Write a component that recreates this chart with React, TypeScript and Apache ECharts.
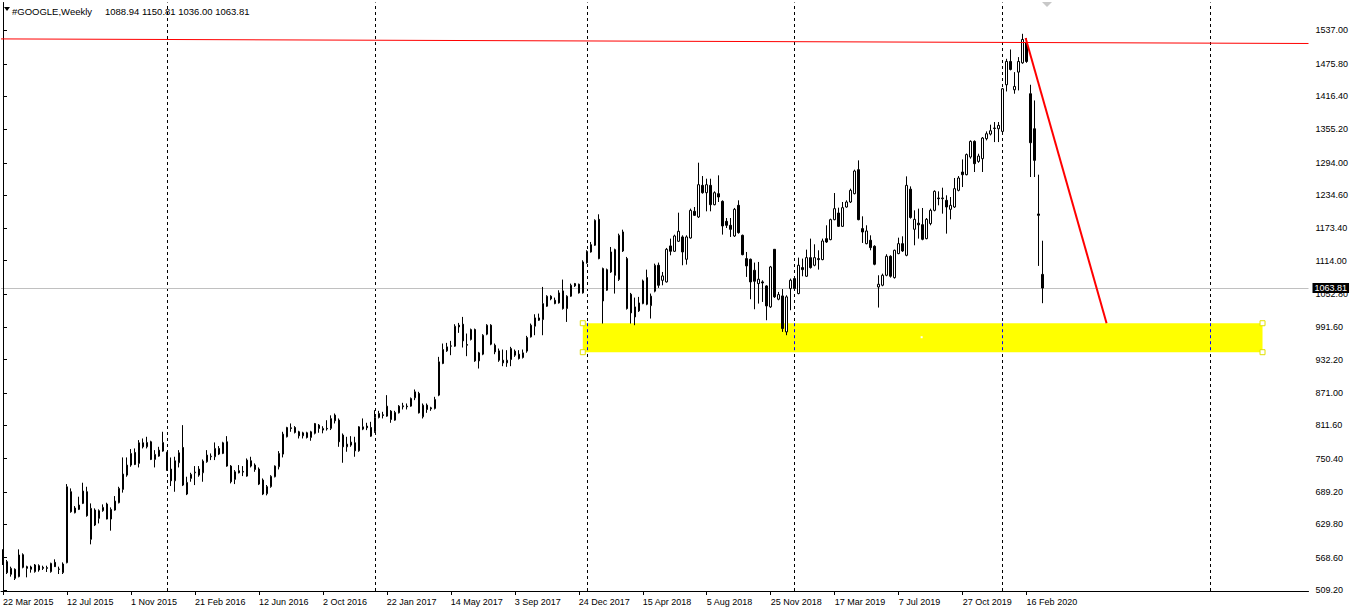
import React, { useEffect, useRef } from "react";
import * as echarts from "echarts";

// weekly candles: [open, close, low, high]
const weeks2015 = [
  [582.6, 556.9, 555.1, 583.8], [561.2, 541.0, 538.5, 564.2], [537.9, 548.9, 533.7, 552.0], [547.1, 530.6, 527.5, 548.9],
  [533.7, 573.4, 532.4, 583.8], [574.0, 550.8, 548.9, 576.5], [552.0, 548.9, 532.4, 553.8], [547.1, 551.4, 541.0, 553.8],
  [542.8, 555.1, 541.0, 556.9], [553.8, 545.9, 542.8, 556.3], [550.8, 548.9, 545.9, 553.8], [550.2, 548.9, 542.2, 553.8],
  [542.8, 558.1, 541.0, 559.3], [559.9, 552.0, 551.4, 565.5], [547.7, 547.1, 538.5, 552.0], [541.0, 556.9, 538.5, 559.9],
  [559.3, 698.8, 558.1, 703.7], [689.7, 652.9, 651.1, 695.8], [651.1, 659.7, 649.9, 663.3], [657.2, 665.2, 656.0, 680.5],
  [668.2, 690.9, 667.0, 706.2], [689.7, 645.6, 643.8, 698.8], [602.2, 659.1, 593.0, 668.2], [656.0, 628.5, 626.6, 659.1],
  [640.7, 654.8, 631.5, 657.2], [654.8, 660.9, 652.9, 666.4], [667.0, 639.5, 638.9, 669.5], [639.5, 657.2, 618.1, 660.9],
  [656.0, 672.5, 654.8, 681.7], [669.5, 695.8, 668.2, 698.8], [693.9, 722.1, 688.0, 752.7], [720.2, 738.6, 717.2, 752.7],
  [738.6, 760.0, 735.5, 768.0], [761.9, 739.8, 738.6, 769.2], [741.7, 779.6, 734.3, 784.5], [779.6, 772.2, 769.2, 787.5],
  [772.2, 780.2, 769.2, 790.6], [781.4, 749.0, 747.8, 783.3], [749.0, 758.2, 734.3, 766.1], [755.1, 766.1, 753.9, 772.2],
  [764.3, 780.2, 763.1, 799.8],
];
const weeks2016 = [
  [761.2, 729.4, 728.2, 763.1], [731.3, 709.8, 700.1, 752.6], [709.8, 746.5, 689.6, 753.9], [742.9, 761.2, 734.3, 766.1],
  [771.0, 701.9, 700.1, 812.0], [685.4, 706.8, 683.5, 717.2], [714.1, 721.5, 708.0, 724.5], [724.5, 725.7, 701.9, 736.8],
  [720.2, 731.3, 717.2, 736.8], [724.5, 745.9, 708.0, 749.0], [744.7, 757.0, 742.9, 766.1], [753.9, 755.0, 747.8, 760.0],
  [753.9, 769.2, 747.8, 780.2], [769.2, 758.8, 757.0, 773.5], [760.0, 779.6, 758.8, 781.4], [781.4, 736.8, 735.5, 791.8],
  [736.8, 708.0, 705.0, 738.6], [712.3, 726.3, 703.7, 729.4], [728.2, 724.5, 723.3, 738.6], [727.0, 725.7, 718.4, 736.8],
  [718.4, 747.8, 717.2, 750.8], [746.5, 736.8, 734.3, 753.9], [738.6, 730.6, 726.3, 741.7], [731.3, 703.7, 701.9, 734.3],
  [711.1, 685.4, 683.5, 714.1], [686.0, 699.0, 683.0, 702.0], [699.0, 718.0, 697.0, 720.0], [717.2, 736.8, 716.0, 738.0],
  [735.5, 760.0, 730.6, 764.3], [758.8, 795.5, 752.7, 799.8], [790.6, 807.7, 789.4, 808.9], [807.1, 805.9, 799.8, 815.1],
  [807.7, 798.6, 796.7, 810.2], [799.8, 792.4, 787.5, 801.6], [792.4, 797.9, 787.5, 799.8], [797.9, 789.4, 787.5, 799.8],
  [789.4, 799.8, 783.3, 801.6], [797.0, 815.0, 795.0, 816.0], [812.0, 806.0, 798.0, 814.0], [803.0, 806.0, 797.0, 810.0],
  [806.0, 805.0, 802.0, 821.0], [806.0, 824.0, 803.0, 830.0], [830.4, 820.0, 815.1, 833.4], [821.2, 781.4, 772.2, 824.3],
  [793.7, 772.2, 742.9, 796.7], [772.2, 777.1, 763.1, 790.6], [775.3, 780.8, 772.2, 791.8], [779.6, 764.9, 753.9, 790.6],
  [764.9, 808.9, 763.1, 810.2], [804.7, 808.9, 802.8, 824.3], [810.2, 807.1, 802.8, 816.3], [807.7, 791.8, 790.6, 818.1],
];
const weeks2017 = [
  [799.8, 826.1, 797.9, 839.5], [826.1, 833.4, 824.3, 838.3], [831.0, 829.8, 824.3, 836.5], [828.5, 846.9, 827.3, 867.1],
  [837.7, 822.4, 816.3, 839.5], [821.2, 835.3, 820.0, 838.3], [834.6, 846.9, 833.4, 848.7], [845.7, 847.5, 840.8, 853.0],
  [846.9, 845.7, 840.8, 851.8], [846.9, 861.0, 845.7, 862.8], [862.2, 873.2, 857.9, 877.5], [870.1, 834.6, 833.4, 873.2],
  [827.3, 848.7, 824.2, 851.8], [848.7, 840.8, 834.6, 851.8], [843.8, 842.0, 838.3, 845.7], [842.6, 859.1, 840.8, 864.0],
  [867.1, 928.3, 865.2, 937.4], [925.2, 950.9, 924.0, 961.9], [948.4, 955.8, 946.6, 963.1], [957.0, 957.6, 940.5, 966.8],
  [957.0, 993.7, 955.8, 997.4], [995.6, 992.5, 981.5, 999.8], [997.4, 966.8, 954.6, 1010.8], [960.1, 958.8, 938.7, 980.3],
  [969.3, 987.6, 967.5, 989.4], [987.6, 930.1, 928.3, 989.4], [930.1, 944.8, 916.0, 946.6], [942.3, 977.2, 940.5, 979.0],
  [979.0, 995.6, 977.2, 997.4], [995.6, 960.7, 958.8, 997.4], [958.8, 946.6, 942.3, 961.9], [948.4, 931.3, 928.3, 952.7],
  [931.3, 926.4, 920.3, 950.9], [926.4, 931.3, 919.1, 949.7], [932.5, 952.7, 920.3, 955.8], [947.8, 940.5, 937.4, 950.9],
  [942.3, 934.4, 932.5, 949.7], [936.2, 944.8, 934.4, 950.9], [948.0, 973.0, 945.0, 976.0], [974.1, 995.6, 972.9, 998.6],
  [993.7, 1009.0, 977.2, 1015.7], [1009.0, 1004.7, 1003.5, 1016.9], [1005.9, 1035.3, 977.2, 1065.9], [1030.4, 1048.8, 1029.2, 1050.6],
  [1048.8, 1043.9, 1041.4, 1050.6], [1041.4, 1035.3, 1034.1, 1046.3], [1036.5, 1054.9, 1035.3, 1059.8], [1058.6, 1026.1, 1024.3, 1079.4],
  [1026.1, 1048.8, 1001.6, 1050.6], [1048.8, 1069.0, 1047.6, 1072.0], [1072.0, 1067.8, 1065.9, 1073.2], [1070.8, 1054.9, 1053.7, 1072.0],
  [1054.9, 1111.8, 1053.7, 1114.9],
];
const weeks2018 = [
  [1110.0, 1131.4, 1108.7, 1133.2], [1130.1, 1143.6, 1128.9, 1148.5], [1142.4, 1188.3, 1141.2, 1190.1], [1190.1, 1117.9, 1116.7, 1199.3],
  [1099.6, 1040.2, 998.6, 1101.4], [1059.8, 1097.7, 1058.6, 1099.6], [1093.4, 1130.1, 1091.6, 1139.3], [1134.4, 1087.3, 1053.7, 1136.2],
  [1079.4, 1160.7, 1076.9, 1163.8], [1166.9, 1132.0, 1130.1, 1171.1], [1117.9, 1026.1, 1024.3, 1121.0], [1052.4, 1018.2, 998.6, 1054.9],
  [1029.2, 1010.8, 995.6, 1046.3], [1021.9, 1036.5, 1020.0, 1047.6], [1035.3, 1076.9, 1034.1, 1079.4], [1083.0, 1034.1, 1032.3, 1097.7],
  [1031.5, 1049.0, 1007.8, 1053.7], [1058.0, 1105.7, 1056.0, 1108.7], [1105.7, 1068.9, 1064.1, 1110.6], [1078.1, 1086.1, 1068.9, 1093.4],
  [1075.1, 1135.0, 1073.9, 1137.5], [1141.2, 1131.4, 1124.0, 1154.6], [1131.4, 1159.5, 1130.1, 1161.9], [1149.7, 1168.1, 1148.5, 1202.3],
  [1157.7, 1130.1, 1105.7, 1160.7], [1116.7, 1157.7, 1106.9, 1160.7], [1155.8, 1206.6, 1154.6, 1209.7], [1204.8, 1197.4, 1196.2, 1212.7],
  [1194.4, 1253.7, 1192.5, 1294.1], [1252.5, 1239.0, 1237.2, 1269.6], [1239.0, 1253.7, 1204.8, 1264.7], [1252.5, 1217.0, 1204.8, 1264.7],
  [1217.0, 1239.0, 1215.8, 1241.5], [1237.2, 1231.1, 1221.9, 1270.9], [1223.1, 1177.9, 1162.0, 1224.9], [1186.4, 1179.1, 1174.2, 1192.5],
  [1179.1, 1171.7, 1157.7, 1192.5], [1159.5, 1208.5, 1157.7, 1211.0], [1215.8, 1165.6, 1163.8, 1225.0], [1160.7, 1125.2, 1124.0, 1162.0],
  [1117.9, 1104.5, 1084.3, 1130.1], [1116.7, 1075.1, 1043.3, 1118.0], [1096.5, 1076.3, 1024.9, 1110.6], [1072.0, 1080.0, 1035.3, 1111.8],
  [1075.1, 1073.3, 1038.3, 1078.1], [1067.7, 1031.0, 1004.7, 1068.9], [1029.2, 1102.6, 1027.4, 1104.5], [1135.0, 1047.6, 1045.7, 1135.0],
  [1043.3, 1051.8, 1041.4, 1056.7], [1049.4, 989.4, 983.3, 1062.0], [983.3, 1047.6, 977.2, 1050.6], [1062.8, 1078.2, 1023.1, 1081.2],
];
const weeks2019 = [
  [1081.2, 1062.8, 1059.8, 1084.3], [1053.7, 1105.7, 1052.4, 1119.7], [1101.4, 1097.7, 1085.5, 1117.9], [1085.5, 1119.7, 1084.3, 1134.4],
  [1119.7, 1101.4, 1099.6, 1154.6], [1105.7, 1119.7, 1103.8, 1144.2], [1117.9, 1116.1, 1097.7, 1133.2], [1116.1, 1150.3, 1114.9, 1154.6],
  [1154.6, 1148.5, 1146.7, 1179.1], [1152.8, 1189.5, 1151.6, 1191.3], [1189.5, 1209.7, 1188.3, 1238.4], [1201.7, 1177.2, 1176.0, 1211.5],
  [1177.2, 1211.5, 1176.0, 1221.9], [1212.7, 1221.9, 1211.5, 1225.0], [1221.9, 1243.3, 1220.0, 1246.4], [1237.2, 1278.8, 1236.0, 1281.3],
  [1281.3, 1189.5, 1188.3, 1298.4], [1173.0, 1166.8, 1146.7, 1195.6], [1145.4, 1168.7, 1144.2, 1179.1], [1151.6, 1138.1, 1133.2, 1160.7],
  [1140.6, 1107.5, 1105.7, 1142.4], [1065.9, 1070.8, 1028.0, 1087.3], [1069.0, 1087.3, 1067.1, 1090.3], [1087.3, 1122.2, 1085.5, 1125.9],
  [1122.2, 1085.5, 1083.0, 1124.0], [1083.0, 1133.2, 1081.2, 1134.4], [1127.1, 1145.4, 1126.0, 1156.4], [1145.4, 1132.0, 1130.1, 1158.9],
  [1124.0, 1252.5, 1122.2, 1269.0], [1245.5, 1193.5, 1191.3, 1250.6], [1171.8, 1190.1, 1142.4, 1206.6], [1183.0, 1180.0, 1154.6, 1209.7],
  [1180.3, 1153.4, 1151.6, 1210.9], [1154.6, 1190.1, 1153.4, 1192.5], [1182.2, 1206.6, 1179.1, 1209.7], [1206.6, 1241.5, 1204.8, 1243.3],
  [1229.3, 1228.0, 1215.8, 1241.5], [1228.0, 1229.3, 1200.5, 1248.2], [1225.0, 1212.7, 1163.8, 1234.2], [1208.5, 1215.8, 1190.1, 1231.1],
  [1212.7, 1246.4, 1210.9, 1266.0], [1243.3, 1266.0, 1241.5, 1269.6], [1277.0, 1272.1, 1249.4, 1300.2], [1272.1, 1309.0, 1270.9, 1311.0],
  [1304.5, 1333.3, 1301.5, 1335.1], [1333.3, 1292.3, 1277.0, 1335.1], [1296.5, 1306.3, 1294.0, 1310.6], [1301.5, 1339.4, 1277.0, 1341.3],
  [1338.2, 1347.3, 1335.1, 1351.6], [1346.7, 1352.8, 1344.2, 1363.9], [1357.7, 1357.1, 1332.0, 1368.8], [1356.5, 1362.6, 1332.0, 1368.8],
];
const weeks2020 = [
  [1351.6, 1429.9, 1350.4, 1431.2], [1437.3, 1480.1, 1425.0, 1485.0], [1480.1, 1465.4, 1463.6, 1502.1], [1428.1, 1434.2, 1420.8, 1460.5],
  [1460.5, 1480.1, 1426.9, 1488.1], [1477.6, 1520.5, 1475.8, 1530.9], [1514.4, 1480.1, 1477.6, 1522.9], [1420.8, 1330.8, 1267.8, 1437.3],
  [1356.5, 1298.4, 1267.8, 1408.5], [1199.9, 1197.4, 1104.5, 1272.1], [1088.94, 1063.81, 1036.0, 1150.81],
];

const xTickLabels = [
  "22 Mar 2015", "12 Jul 2015", "1 Nov 2015", "21 Feb 2016", "12 Jun 2016", "2 Oct 2016", "22 Jan 2017",
  "14 May 2017", "3 Sep 2017", "24 Dec 2017", "15 Apr 2018", "5 Aug 2018", "25 Nov 2018", "17 Mar 2019",
  "7 Jul 2019", "27 Oct 2019", "16 Feb 2020",
];
const priceTicks = [
  509.2, 568.6, 629.8, 689.2, 750.4, 811.6, 871.0, 932.2, 991.6, 1052.8, 1114.0, 1173.4, 1234.6, 1294.0,
  1355.2, 1416.4, 1475.8, 1537.0,
];
const yearSeparators = [41, 93, 146, 198, 250, 302];
const lastPrice = 1063.81;
const resistanceLine = [[-0.5, 1521.5], [326.5, 1513.1]];
const dropLine = [[255.75, 1523.0], [276.0, 999.2]];
const supportZone = [145, 999.2, 315, 946.0];
const zoneHandles = [[145, 999.2], [145, 946.0], [315, 999.2], [315, 946.0]];
const zoneCenter = [[229.75, 973.5]];

const SLOTS = 327;
const Y_MIN = 507.3;
const Y_MAX = 1588.4;

export default function App() {
  const ref = useRef<HTMLDivElement>(null);
  useEffect(() => {
    const chart = echarts.init(ref.current!, null, { renderer: "svg" });
    const candles = [...weeks2015, ...weeks2016, ...weeks2017, ...weeks2018, ...weeks2019, ...weeks2020];
    const slotNames = Array.from({ length: SLOTS }, (_, i) => String(i));
    const tickShown = (i: number) => i % 16 === 0 && i / 16 < xTickLabels.length;
    const font = "'Liberation Sans', Arial, sans-serif";
    const last = weeks2020[weeks2020.length - 1];
    const ohlcText = [last[0], last[3], last[2], last[1]].map((v) => v.toFixed(2)).join(" ");

    const option: any = {
      animation: false,
      backgroundColor: "#ffffff",
      grid: { left: 0.5, top: 2.5, width: 1308, height: 588.5, show: false },
      xAxis: [
        {
          type: "category",
          data: slotNames,
          boundaryGap: true,
          axisLine: { show: true, lineStyle: { color: "#000", width: 1 } },
          axisTick: { show: true, alignWithLabel: true, interval: tickShown, length: 4, lineStyle: { color: "#000" } },
          axisLabel: {
            show: true,
            interval: tickShown,
            formatter: (_v: string, i: number) => (i % 16 === 0 && xTickLabels[i / 16]) || "",
            align: "left",
            margin: 6,
            fontSize: 9,
            fontFamily: font,
            color: "#000",
          },
          splitLine: { show: false },
        },
        { type: "value", min: -0.5, max: SLOTS - 0.5, show: false },
      ],
      yAxis: {
        type: "value",
        position: "right",
        min: Y_MIN,
        max: Y_MAX,
        axisLine: { show: true, lineStyle: { color: "#000", width: 1 } },
        axisTick: { show: true, customValues: priceTicks, length: 4, lineStyle: { color: "#000" } },
        axisLabel: {
          show: true,
          customValues: priceTicks,
          formatter: (v: number) => v.toFixed(2),
          margin: 7,
          fontSize: 9,
          fontFamily: font,
          color: "#000",
        },
        splitLine: { show: false },
      },
      graphic: [
        { type: "polygon", shape: { points: [[4, 7], [10, 7], [7, 11]] }, style: { fill: "#000" }, z: 100 },
        { type: "text", x: 12, y: 11, style: { text: "#GOOGLE,Weekly", font: `9.5px ${font}`, fill: "#000", textVerticalAlign: "middle" }, z: 100 },
        { type: "text", x: 105, y: 11, style: { text: ohlcText, font: `9.5px ${font}`, fill: "#000", textVerticalAlign: "middle" }, z: 100 },
        { type: "polygon", shape: { points: [[1042, 2], [1052, 2], [1047, 7]] }, style: { fill: "#c8c8c8" }, z: 100 },
      ],
      series: [
        {
          type: "lines",
          coordinateSystem: "cartesian2d",
          xAxisIndex: 1,
          yAxisIndex: 0,
          z: 0,
          silent: true,
          clip: false,
          data: yearSeparators.map((x) => ({ coords: [[x, Y_MIN], [x, Y_MAX]] })),
          lineStyle: { color: "#000", width: 1, type: [3, 3], opacity: 1, curveness: 0 },
        },
        {
          type: "lines",
          coordinateSystem: "cartesian2d",
          xAxisIndex: 1,
          yAxisIndex: 0,
          z: 0,
          silent: true,
          clip: false,
          data: [{ coords: [[-0.5, lastPrice], [SLOTS - 0.5, lastPrice]] }],
          lineStyle: { color: "#c0c0c0", width: 1, opacity: 1, curveness: 0 },
          label: {
            show: true,
            position: "end",
            distance: 4,
            formatter: () => lastPrice.toFixed(2),
            backgroundColor: "#000",
            color: "#fff",
            padding: [1, 2, 0, 2],
            fontSize: 9,
            fontFamily: font,
          },
        },
        {
          type: "custom",
          xAxisIndex: 1,
          yAxisIndex: 0,
          z: 1,
          silent: true,
          clip: false,
          data: [supportZone],
          encode: { x: [0, 2], y: [1, 3] },
          renderItem: (_p: any, api: any) => {
            const a = api.coord([api.value(0), api.value(1)]);
            const b = api.coord([api.value(2), api.value(3)]);
            return {
              type: "rect",
              shape: { x: a[0], y: a[1], width: b[0] - a[0], height: b[1] - a[1] },
              style: { fill: "#ffff00" },
            };
          },
        },
        {
          type: "lines",
          coordinateSystem: "cartesian2d",
          xAxisIndex: 1,
          yAxisIndex: 0,
          z: 1,
          silent: true,
          data: yearSeparators
            .filter((x) => x > supportZone[0] && x < supportZone[2])
            .map((x) => ({ coords: [[x, supportZone[1]], [x, supportZone[3]]] })),
          lineStyle: { color: "#0000ff", width: 1, type: [3, 3], opacity: 1, curveness: 0 },
        },
        {
          type: "candlestick",
          xAxisIndex: 0,
          yAxisIndex: 0,
          z: 2,
          barWidth: 2,
          silent: true,
          data: candles,
          itemStyle: {
            color: "#ffffff",
            color0: "#000000",
            borderColor: "#000000",
            borderColor0: "#000000",
            borderColorDoji: "#000000",
            borderWidth: 1,
          },
        },
        {
          type: "lines",
          coordinateSystem: "cartesian2d",
          xAxisIndex: 1,
          yAxisIndex: 0,
          z: 3,
          silent: true,
          clip: false,
          data: [{ coords: resistanceLine }],
          lineStyle: { color: "#ff0000", width: 1, opacity: 1, curveness: 0 },
        },
        {
          type: "lines",
          coordinateSystem: "cartesian2d",
          xAxisIndex: 1,
          yAxisIndex: 0,
          z: 3,
          silent: true,
          data: [{ coords: dropLine }],
          lineStyle: { color: "#ff0000", width: 2, opacity: 1, curveness: 0 },
        },
        {
          type: "scatter",
          xAxisIndex: 1,
          yAxisIndex: 0,
          z: 4,
          silent: true,
          symbol: "rect",
          symbolSize: 5,
          data: zoneHandles,
          itemStyle: { color: "#ffffff", borderColor: "#e0e000", borderWidth: 1, opacity: 1 },
        },
        {
          type: "scatter",
          xAxisIndex: 1,
          yAxisIndex: 0,
          z: 4,
          silent: true,
          symbol: "rect",
          symbolSize: 2,
          data: zoneCenter,
          itemStyle: { color: "#ffffff", opacity: 1 },
        },
      ],
    };
    chart.setOption(option);
    return () => chart.dispose();
  }, []);
  return (
    <div
      ref={ref}
      style={{ position: "fixed", left: 0, top: 0, width: 1360, height: 608, background: "#fff" }}
    />
  );
}
